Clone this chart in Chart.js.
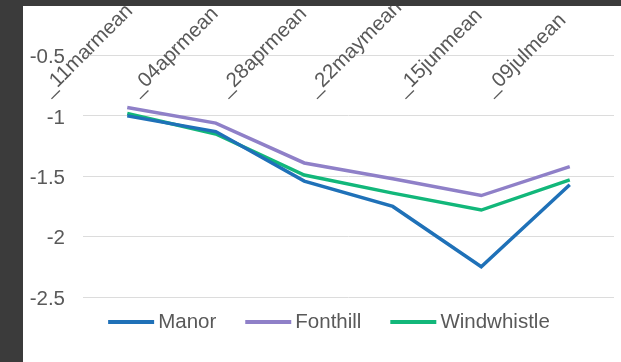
<!DOCTYPE html>
<html>
<head>
<meta charset="utf-8">
<script src="https://cdn.jsdelivr.net/npm/chart.js@4"></script>
<style>
  html, body { margin: 0; padding: 0; }
  body { width: 621px; height: 362px; background: #3b3b3b; position: relative; overflow: hidden; }
  .card { position: absolute; left: 23px; top: 6px; width: 598px; height: 356px; background: #fff; }
</style>
</head>
<body>
<div class="card"><canvas id="sites-graph"></canvas></div>
<script>
// Site means

const periods = ['_11marmean', '_04aprmean', '_28aprmean', '_22maymean', '_15junmean', '_09julmean'];
const manor = [-1.00, -1.13, -1.54, -1.75, -2.25, -1.57];
const fonthill = [-0.93, -1.06, -1.39, -1.52, -1.66, -1.42];
const windwhistle = [-0.98, -1.15, -1.49, -1.64, -1.78, -1.53];
const yTicks = [-0.5, -1, -1.5, -2, -2.5];

const sitesChart = document.querySelector('#sites-graph');
const grey = '#595959';
const family = '"Liberation Sans", Arial, sans-serif';
const colors = ['#1f71b8', '#8f80c8', '#12b77a'];

// legend swatch: short thick line sitting just before the text
const legendIcon = (color) => {
  const c = document.createElement('canvas');
  c.width = 80;
  c.height = 4;
  const g = c.getContext('2d');
  g.fillStyle = color;
  g.fillRect(27, 0, 46, 4);
  return c;
};
const legendIcons = colors.map(legendIcon);

const sitesData = {
  labels: periods,
  datasets: [{
    label: 'Manor',
    data: manor,
    borderColor: colors[0],
    backgroundColor: colors[0]
  }, {
    label: 'Fonthill',
    data: fonthill,
    borderColor: colors[1],
    backgroundColor: colors[1]
  }, {
    label: 'Windwhistle',
    data: windwhistle,
    borderColor: colors[2],
    backgroundColor: colors[2]
  }]
};

const sitesOptions = {
  responsive: true,
  maintainAspectRatio: false,
  animation: false,
  layout: {
    padding: { left: 7, right: 7, top: 49.5, bottom: 19.5 }
  },
  elements: {
    line: { borderWidth: 3.5, tension: 0 },
    point: { radius: 0 }
  },
  scales: {
    x: {
      position: 'top',
      offset: true,
      grid: { display: false },
      border: { display: false },
      afterFit: (axis) => {
        axis.height = 0;
        axis.paddingLeft = 0;
        axis.paddingRight = 0;
      },
      ticks: {
        color: grey,
        font: { family: family, size: 20.5 },
        autoSkip: false,
        minRotation: 45,
        maxRotation: 45,
        mirror: true,
        labelOffset: -82,
        padding: 28
      }
    },
    y: {
      min: -2.5,
      max: -0.5,
      grid: { color: '#dcdcdc', drawTicks: false },
      border: { display: false },
      afterBuildTicks: (axis) => {
        axis.ticks = yTicks.map(v => ({ value: v }));
      },
      afterFit: (axis) => {
        axis.width = 53;
      },
      ticks: {
        color: grey,
        font: { family: family, size: 20.5 },
        padding: 18,
        labelOffset: 2,
        callback: (value) => String(value)
      }
    }
  },
  plugins: {
    legend: {
      position: 'bottom',
      labels: {
        color: grey,
        font: { family: family, size: 20.5 },
        usePointStyle: true,
        pointStyleWidth: 53.75,
        padding: 15,
        generateLabels: (chart) => Chart.defaults.plugins.legend.labels.generateLabels(chart).map((item, i) => {
          item.pointStyle = legendIcons[i];
          return item;
        })
      }
    },
    tooltip: { enabled: false }
  }
};

const sitesLineChart = new Chart(sitesChart, {
  type: 'line',
  data: sitesData,
  options: sitesOptions
});
</script>
</body>
</html>
